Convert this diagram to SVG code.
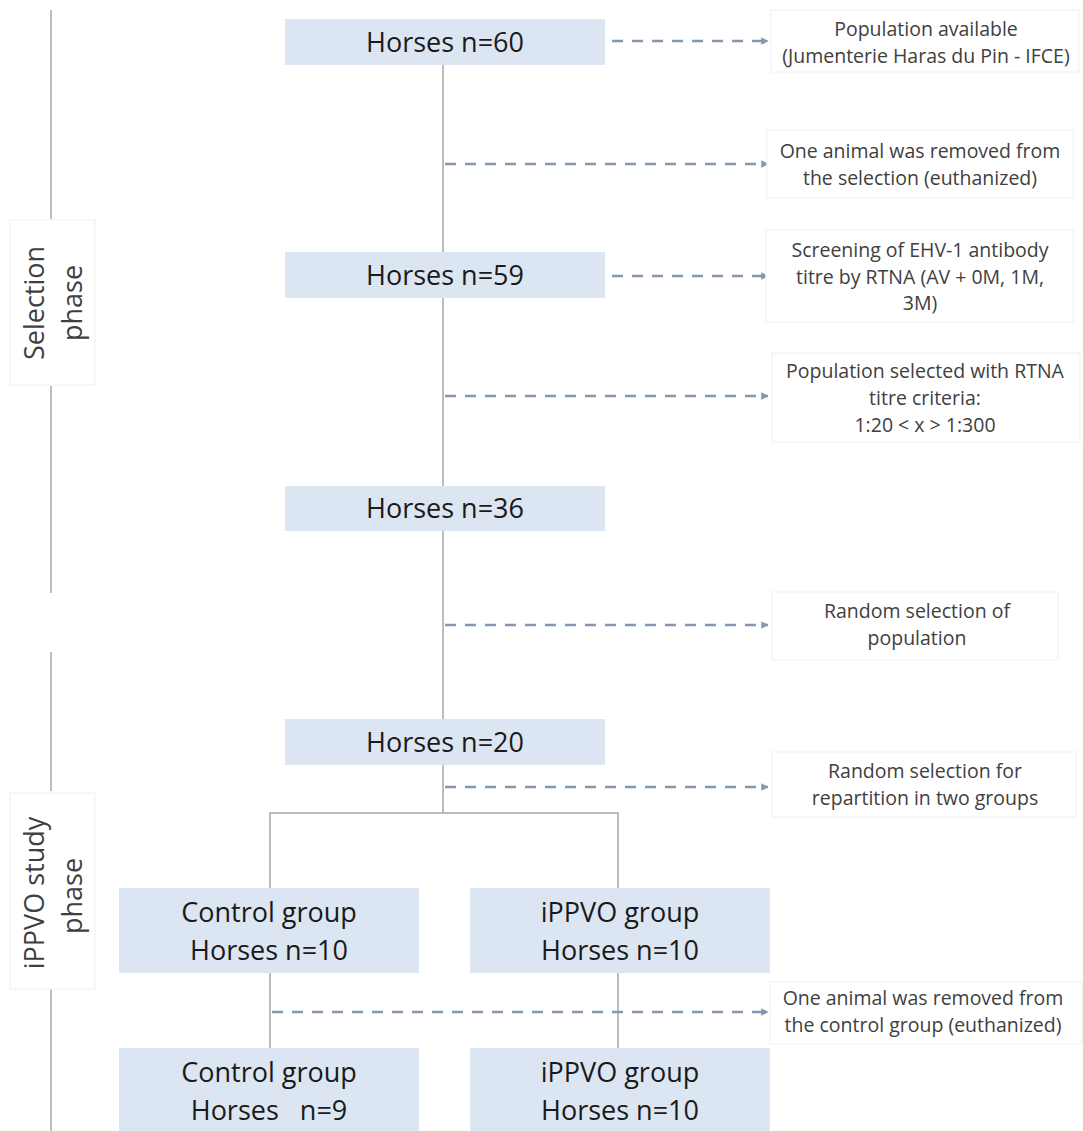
<svg xmlns="http://www.w3.org/2000/svg" width="1083" height="1131" viewBox="0 0 1083 1131">
<defs>
<style>
.node{fill:#dce6f2}
.nt{font-family:"Open Sans","Liberation Sans",sans-serif;font-size:27px;fill:#1a1a1a;text-anchor:middle}
.st{font-family:"Open Sans","Liberation Sans",sans-serif;font-size:19.5px;fill:#404040;text-anchor:middle}
.pt{font-family:"Open Sans","Liberation Sans",sans-serif;font-size:27px;fill:#404040;text-anchor:middle}
.sbox{fill:#ffffff;stroke:#f5f5f5;stroke-width:1.5}
.line{stroke:#a6a6a6;stroke-width:1.5;fill:none}
.dash{stroke:#8497b0;stroke-width:2.5;stroke-dasharray:11 9;fill:none;marker-end:url(#ah)}
</style>
<marker id="ah" viewBox="0 0 10 10" refX="9" refY="5" markerWidth="3" markerHeight="3" orient="auto" markerUnits="strokeWidth">
<path d="M0,0 L10,5 L0,10 z" fill="#8497b0"/>
</marker>
</defs>
<rect width="1083" height="1131" fill="#ffffff"/>

<g id="phase-lines">
<line class="line" x1="51" y1="10" x2="51" y2="219"/>
<line class="line" x1="51" y1="386" x2="51" y2="593"/>
<line class="line" x1="51" y1="652" x2="51" y2="791"/>
<line class="line" x1="51" y1="988" x2="51" y2="1131"/>
</g>

<g id="selection-phase">
<rect class="sbox" x="10" y="220" width="85" height="165"/>
<text class="pt" transform="translate(44,303) rotate(-90)">Selection</text>
<text class="pt" transform="translate(82,303) rotate(-90)">phase</text>
</g>

<g id="ippvo-phase">
<rect class="sbox" x="10" y="793" width="85" height="196"/>
<text class="pt" transform="translate(44,893) rotate(-90)">iPPVO study</text>
<text class="pt" transform="translate(82,896) rotate(-90)">phase</text>
</g>

<g id="connectors">
<line class="line" x1="443" y1="65" x2="443" y2="252"/>
<line class="line" x1="443" y1="298" x2="443" y2="486"/>
<line class="line" x1="443" y1="531" x2="443" y2="719"/>
<line class="line" x1="443" y1="765" x2="443" y2="813"/>
<polyline class="line" points="270,888 270,813 618,813 618,888"/>
<line class="line" x1="270" y1="973" x2="270" y2="1048"/>
<line class="line" x1="618" y1="973" x2="618" y2="1048"/>
<line class="dash" x1="612" y1="41" x2="768" y2="41"/>
<line class="dash" x1="445" y1="164" x2="768" y2="164"/>
<line class="dash" x1="612" y1="276" x2="768" y2="276"/>
<line class="dash" x1="445" y1="396" x2="768" y2="396"/>
<line class="dash" x1="445" y1="625" x2="768" y2="625"/>
<line class="dash" x1="445" y1="787" x2="768" y2="787"/>
<line class="dash" x1="272" y1="1012" x2="768" y2="1012"/>
</g>

<g id="n60"><rect class="node" x="285" y="19" width="320" height="46"/><text class="nt" x="445" y="52">Horses n=60</text></g>
<g id="n59"><rect class="node" x="285" y="252" width="320" height="46"/><text class="nt" x="445" y="285">Horses n=59</text></g>
<g id="n36"><rect class="node" x="285" y="486" width="320" height="45"/><text class="nt" x="445" y="518">Horses n=36</text></g>
<g id="n20"><rect class="node" x="285" y="719" width="320" height="46"/><text class="nt" x="445" y="752">Horses n=20</text></g>

<g id="control10"><rect class="node" x="119" y="888" width="300" height="85"/><text class="nt" x="269" y="922">Control group</text><text class="nt" x="269" y="960">Horses n=10</text></g>
<g id="ippvo10"><rect class="node" x="470" y="888" width="300" height="85"/><text class="nt" x="620" y="922">iPPVO group</text><text class="nt" x="620" y="960">Horses n=10</text></g>
<g id="control9"><rect class="node" x="119" y="1048" width="300" height="90"/><text class="nt" x="269" y="1082">Control group</text><text class="nt" x="269" y="1120" style="white-space:pre">Horses   n=9</text></g>
<g id="ippvo10b"><rect class="node" x="470" y="1048" width="300" height="90"/><text class="nt" x="620" y="1082">iPPVO group</text><text class="nt" x="620" y="1120">Horses n=10</text></g>

<g id="note-population"><rect class="sbox" x="771" y="10" width="308" height="62"/><text class="st" x="926" y="36">Population available</text><text class="st" x="926" y="63">(Jumenterie Haras du Pin - IFCE)</text></g>
<g id="note-removed1"><rect class="sbox" x="767" y="130" width="306" height="68"/><text class="st" x="920" y="158">One animal was removed from</text><text class="st" x="920" y="185">the selection (euthanized)</text></g>
<g id="note-screening"><rect class="sbox" x="766" y="230" width="307" height="92"/><text class="st" x="920" y="257">Screening of EHV-1 antibody</text><text class="st" x="920" y="284">titre by RTNA (AV + 0M, 1M,</text><text class="st" x="920" y="310">3M)</text></g>
<g id="note-criteria"><rect class="sbox" x="772" y="353" width="308" height="89"/><text class="st" x="925" y="378">Population selected with RTNA</text><text class="st" x="925" y="405">titre criteria:</text><text class="st" x="925" y="432">1:20 &lt; x &gt; 1:300</text></g>
<g id="note-random1"><rect class="sbox" x="772" y="592" width="286" height="68"/><text class="st" x="917" y="618">Random selection of</text><text class="st" x="917" y="645">population</text></g>
<g id="note-random2"><rect class="sbox" x="772" y="752" width="304" height="65"/><text class="st" x="925" y="778">Random selection for</text><text class="st" x="925" y="805">repartition in two groups</text></g>
<g id="note-removed2"><rect class="sbox" x="770" y="982" width="312" height="62"/><text class="st" x="923" y="1005">One animal was removed from</text><text class="st" x="923" y="1032">the control group (euthanized)</text></g>
</svg>
